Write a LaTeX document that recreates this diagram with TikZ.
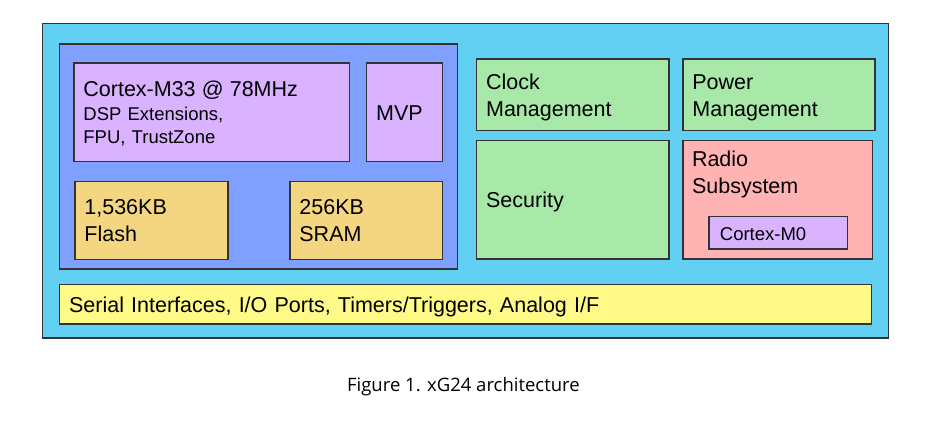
\documentclass[tikz,border=0pt]{standalone}
\usepackage{fontspec}
\setmainfont{Liberation Sans}
\newfontfamily\captionfont{Open Sans}
\definecolor{chipcyan}{HTML}{62D0F2}
\definecolor{coreblue}{HTML}{80A0FF}
\definecolor{cpupurple}{HTML}{D9B3FF}
\definecolor{memtan}{HTML}{F5D680}
\definecolor{mgmtgreen}{HTML}{A8E8A8}
\definecolor{radiopink}{HTML}{FFB3B3}
\definecolor{ioyellow}{HTML}{FFFA87}
\newcommand\blkstrut{\rule[-4pt]{0pt}{24pt}}

\begin{document}
\begin{tikzpicture}[x=1pt,y=-1pt,
  blk/.style={draw=black!80,line width=1.2pt,anchor=north west,inner xsep=9.5pt,align=left,font=\fontsize{21.5}{27}\selectfont,
    execute at begin node=\blkstrut,execute at end node=\blkstrut}]
\useasboundingbox (0,0) rectangle (929,439);
\node[blk,fill=chipcyan,minimum width=846.5pt,minimum height=314.3pt] (chip) at (41.5,23) {};
\node[blk,fill=coreblue,minimum width=397.7pt,minimum height=225pt] (core) at (59,43.3) {};
\node[blk,fill=cpupurple,text width=256.7pt,minimum height=98.4pt,font=\fontsize{18.5}{22}\selectfont] (m33) at (73.3,62.3) {{\fontsize{21.5}{22}\selectfont Cortex-M33 @ 78MHz}\\[1.4pt]DSP Extensions,\\FPU, TrustZone};
\node[blk,fill=cpupurple,text width=56.7pt,minimum height=98.4pt] (mvp) at (366,62.3) {MVP};
\node[blk,fill=memtan,text width=134pt,minimum height=78.3pt] (flash) at (74.3,180.7) {1,536KB\\Flash};
\node[blk,fill=memtan,text width=133.4pt,minimum height=78.3pt] (sram) at (289.3,180.7) {256KB\\SRAM};
\node[blk,fill=mgmtgreen,text width=173.3pt,minimum height=71.7pt] (clock) at (476,58.3) {Clock\\Management};
\node[blk,fill=mgmtgreen,text width=173pt,minimum height=71.7pt] (power) at (682.3,58.3) {Power\\Management};
\node[blk,fill=mgmtgreen,text width=173.3pt,minimum height=118.3pt] (security) at (476,140) {Security};
\node[blk,fill=radiopink,text width=170.4pt,minimum height=118.3pt] (radio) at (682.3,140) {};
\node[anchor=north west,align=left,inner sep=0pt,font=\fontsize{21.5}{27}\selectfont] (radiotext) at ([xshift=9.5pt,yshift=-11pt]radio.north west) {Radio\\Subsystem};
\node[blk,fill=cpupurple,inner xsep=11pt,text width=116.4pt,minimum height=32.3pt,font=\fontsize{18.5}{22}\selectfont] (m0) at (708.3,216) {Cortex-M0};
\node[blk,fill=ioyellow,text width=793pt,minimum height=39.3pt] (io) at (59,284) {Serial Interfaces, I/O Ports, Timers/Triggers, Analog I/F};
\node[anchor=base,font=\captionfont\fontsize{18.5}{22}\selectfont] (caption) at (463.4,391.7) {Figure 1. xG24 architecture};
\end{tikzpicture}
\end{document}
